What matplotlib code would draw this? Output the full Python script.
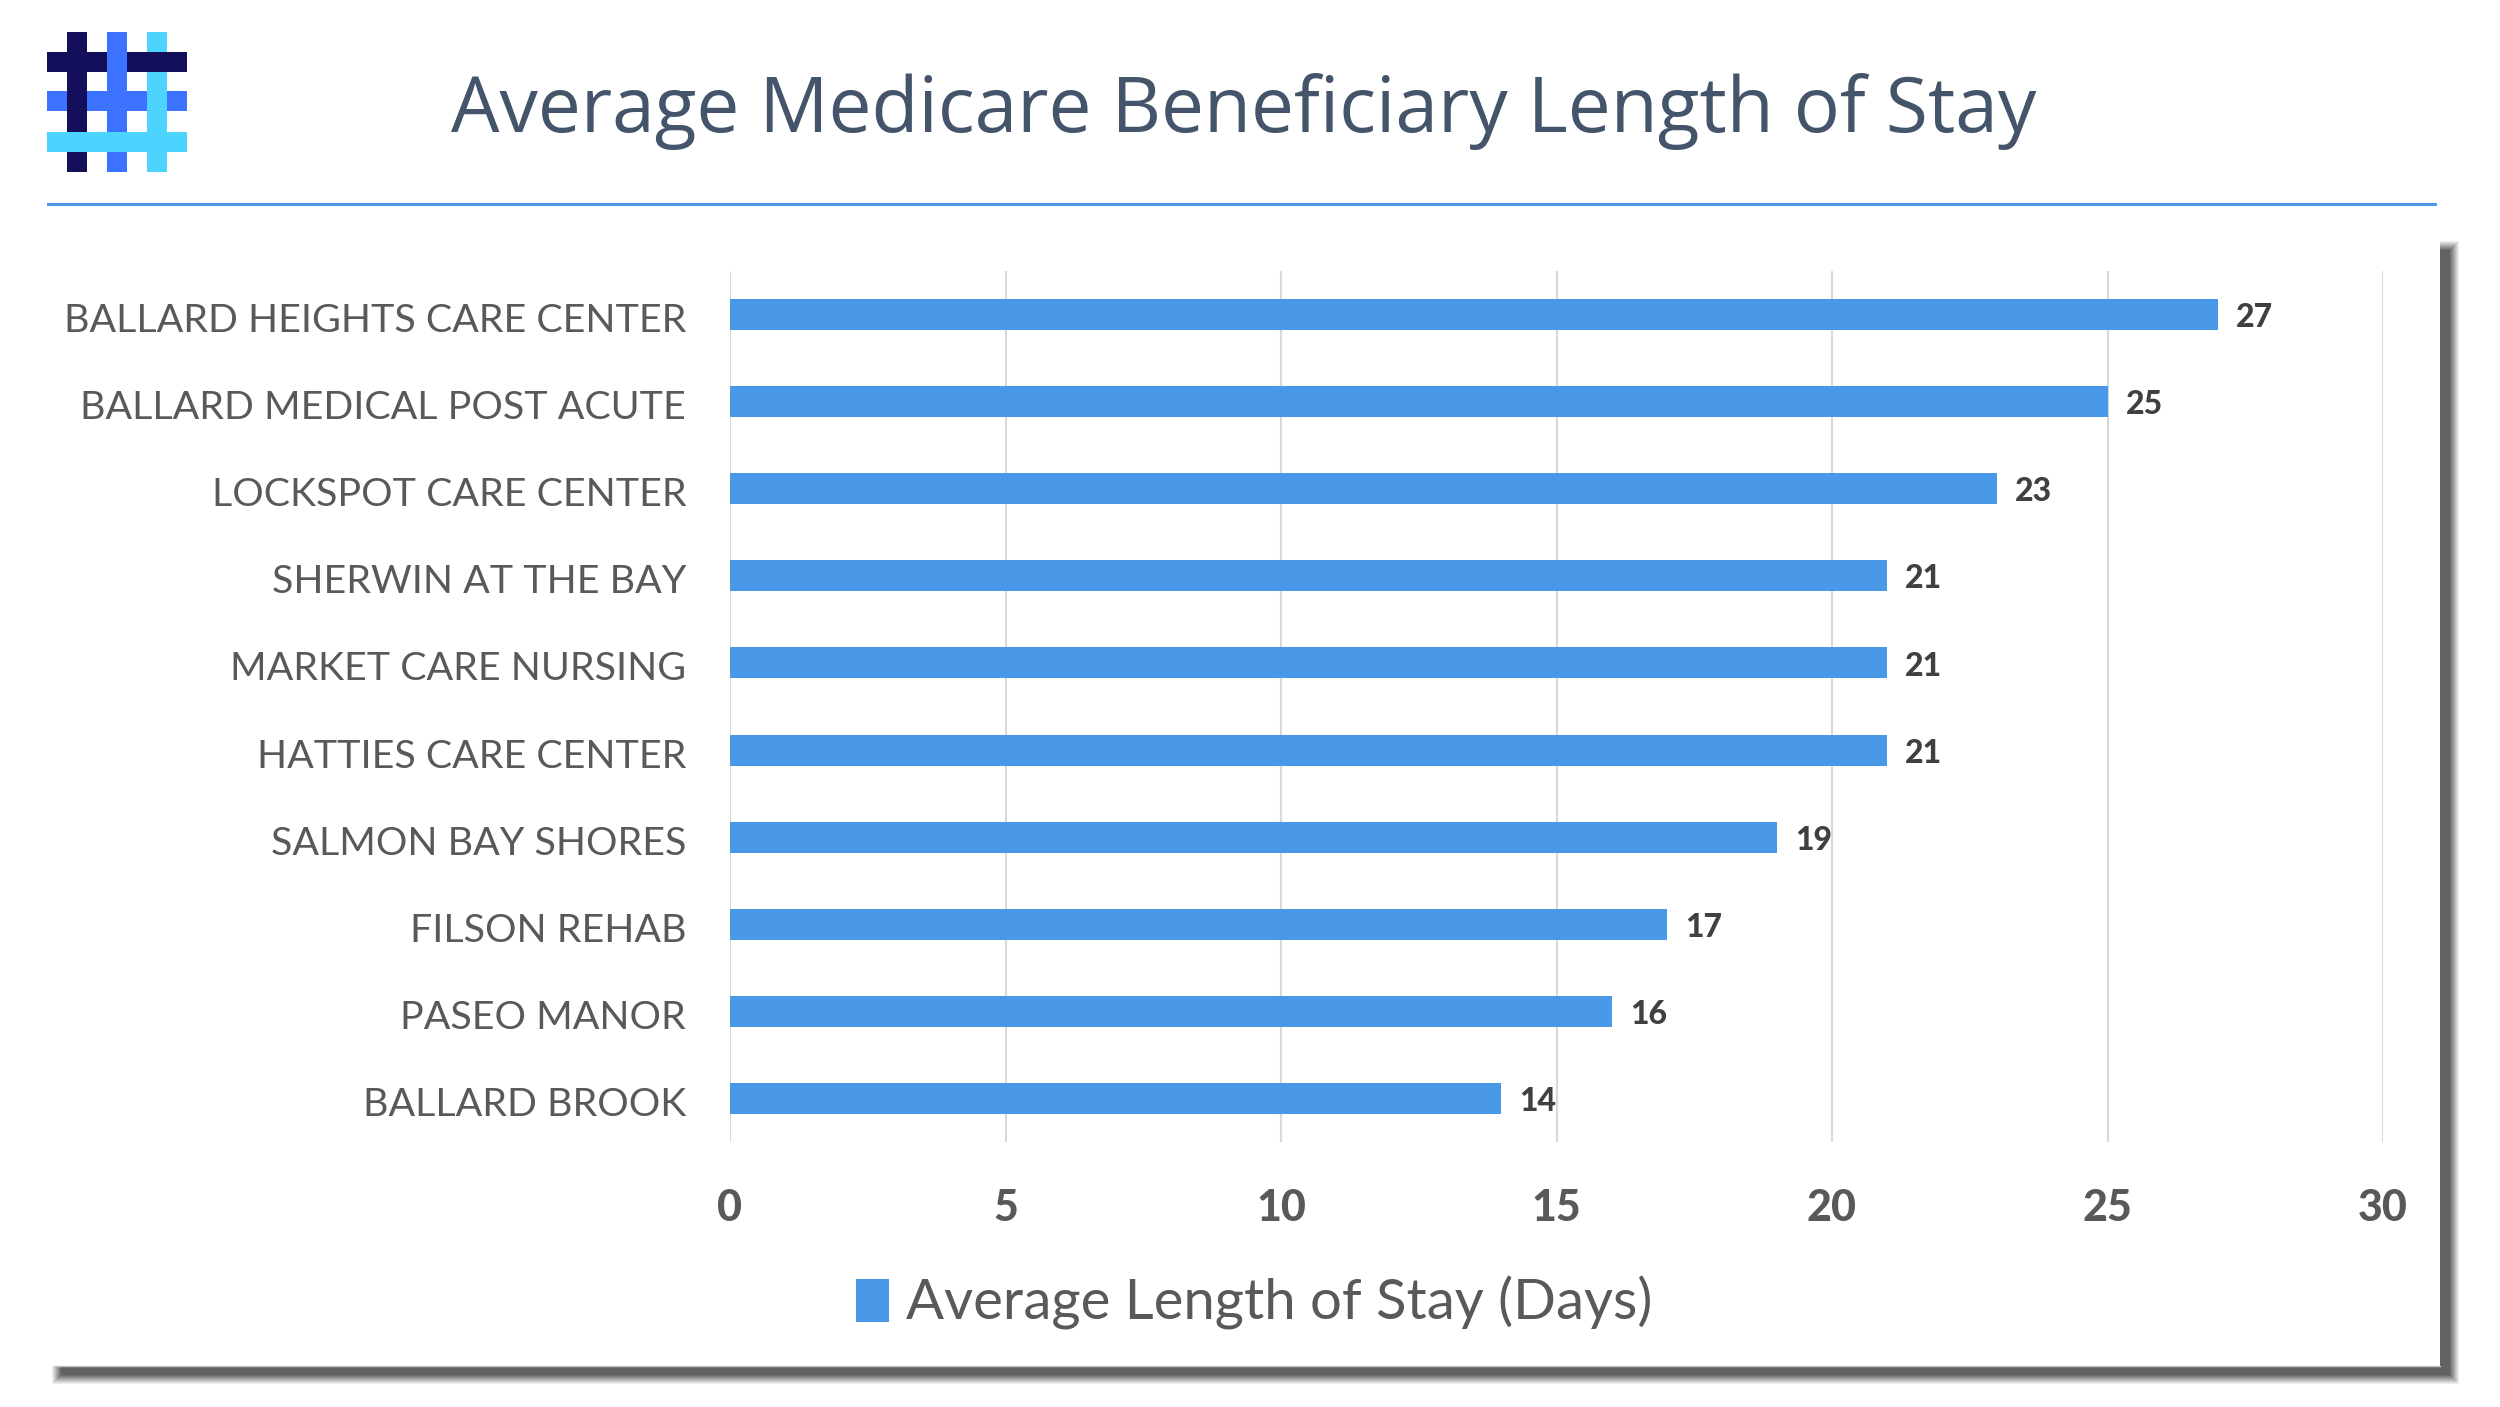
import matplotlib
matplotlib.use("Agg")
import matplotlib.pyplot as plt
from matplotlib.patches import Rectangle
from matplotlib.transforms import ScaledTranslation

W, H = 2500, 1407

facilities = ["BALLARD HEIGHTS CARE CENTER", "BALLARD MEDICAL POST ACUTE", "LOCKSPOT CARE CENTER",
              "SHERWIN AT THE BAY", "MARKET CARE NURSING", "HATTIES CARE CENTER",
              "SALMON BAY SHORES", "FILSON REHAB", "PASEO MANOR", "BALLARD BROOK"]
stay_days = [27, 25, 23, 21, 21, 21, 19, 17, 16, 14]
x_ticks = [0, 5, 10, 15, 20, 25, 30]
series_name = "Average Length of Stay (Days)"
title = "Average Medicare Beneficiary Length of Stay"

BAR = "#4A98E8"
GREY = "#595959"

fig = plt.figure(figsize=(W / 100, H / 100), dpi=100, facecolor="white")

# background layer in pixel coords: shadow, panel, logo, rule
bg = fig.add_axes([0, 0, 1, 1])
bg.set_xlim(0, W)
bg.set_ylim(H, 0)
bg.axis("off")

# soft shadow, alpha chosen so the stack ramps up linearly
steps = 10
for k in range(steps):
    bg.add_patch(Rectangle((52 + k, 241 + k), 2407 - 2 * k, 1143 - 2 * k,
                           fc="#626262", ec="none", alpha=1 / (steps - k)))
bg.add_patch(Rectangle((0, 0), 2440, 1366, fc="white", ec="none"))
bg.plot([54, 2440], [1366, 1366], color="#C4C4C4", lw=1)

# logo, order matters for the weave
logo_h = {"dark": 52, "blue": 91, "cyan": 132}
logo_v = {"dark": 67, "blue": 107, "cyan": 147}
logo_col = {"dark": "#140F5A", "blue": "#3B72FF", "cyan": "#4CD4FF"}


def hbar(name):
    bg.add_patch(Rectangle((47, logo_h[name]), 140, 20, fc=logo_col[name], ec="none"))


def vbar(name):
    bg.add_patch(Rectangle((logo_v[name], 32), 20, 140, fc=logo_col[name], ec="none"))


hbar("blue")
vbar("cyan")
vbar("dark")
hbar("dark")
vbar("blue")
hbar("cyan")

# rule under the header
bg.add_patch(Rectangle((47, 202.5), 2390, 3.5, fc=BAR, ec="none"))

bg.text(1244, 112, title, ha="center", va="center", fontsize=55.3,
        family="Open Sans", color="#44546A")

# chart
ax = fig.add_axes([730 / W, 1 - 1142 / H, (2383 - 730) / W, (1142 - 271) / H])
ax.patch.set_alpha(0)
ypos = list(range(len(facilities)))
bars = ax.barh(ypos, stay_days, height=0.356, color=BAR, label=series_name, zorder=3)
ax.set_xlim(0, 30)
ax.set_ylim(len(facilities) - 0.5, -0.5)
ax.set_xticks(x_ticks)
ax.set_yticks(ypos)
ax.set_yticklabels(facilities, fontsize=28.4, family="Lato", color=GREY)
ax.set_xticklabels(x_ticks, fontsize=31, family="Lato", fontweight=900, color=GREY)
ax.tick_params(axis="y", length=0, pad=31.5)
ax.tick_params(axis="x", length=0, pad=33)
ax.grid(axis="x", color="#D9D9D9", lw=1.5, zorder=0)
ax.set_axisbelow(True)
for s in ax.spines.values():
    s.set_visible(False)

# labels sit a little lower than the bar centre in the original
nudge = ScaledTranslation(0, -3 / 100, fig.dpi_scale_trans)
for lab in ax.get_yticklabels():
    lab.set_transform(lab.get_transform() + nudge)

texts = ax.bar_label(bars, labels=[str(v) for v in stay_days], padding=13, fontsize=23,
                     family="Lato", fontweight=900, color="#404040")
for t in texts:
    t.xyann = (t.xyann[0], t.xyann[1] - 2.2)

ax.legend(loc="center", bbox_to_anchor=(1254 / W, 1 - 1303 / H), bbox_transform=fig.transFigure,
          frameon=False, prop={"family": "Lato", "size": 40.5}, labelcolor=GREY,
          handlelength=0.6, handleheight=0.8, handletextpad=0.3)

fig.savefig("out.png", dpi=100)
